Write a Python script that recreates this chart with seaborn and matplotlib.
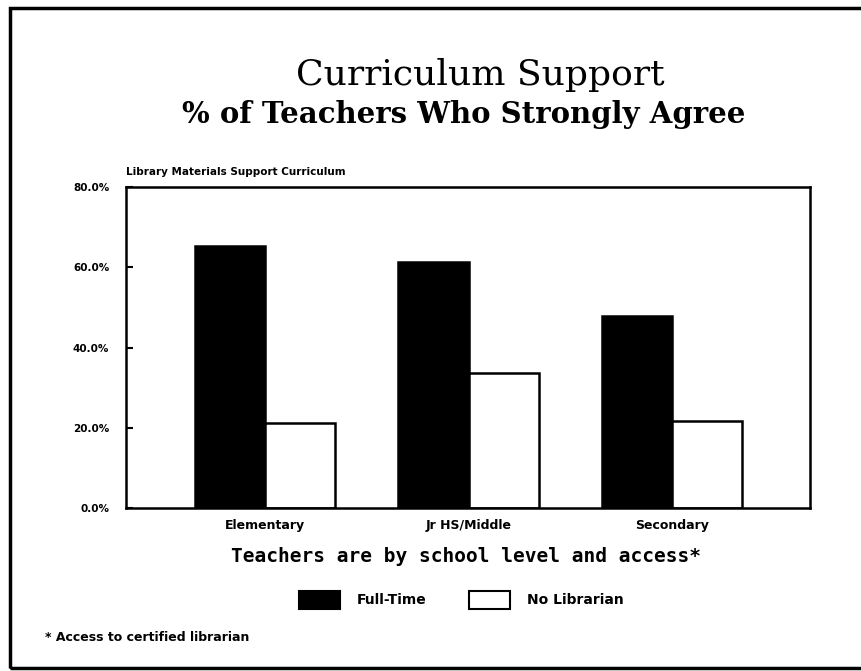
import pandas as pd
import matplotlib.pyplot as plt
import seaborn as sns
from matplotlib.patches import Patch, Rectangle

# data
levels = ['Elementary', 'Jr HS/Middle', 'Secondary']
full_time = [65.3, 61.3, 47.9]
no_librarian = [21.2, 33.7, 21.7]
groups = ['Full-Time', 'No Librarian']
y_ticks = [0, 20, 40, 60, 80]

df = pd.DataFrame({
    'level': levels * 2,
    'pct': full_time + no_librarian,
    'group': [groups[0]] * 3 + [groups[1]] * 3,
})

sns.set_style('white')
plt.rcParams['font.family'] = ['DejaVu Sans']
plt.rcParams['text.color'] = 'black'
plt.rcParams['xtick.color'] = 'black'
plt.rcParams['ytick.color'] = 'black'

fig = plt.figure(figsize=(8.62, 6.71), dpi=100)
ax = fig.add_axes([0.1462, 0.2429, 0.7935, 0.4784])

sns.barplot(data=df, x='level', y='pct', hue='group', palette=['black', 'white'],
            edgecolor='black', linewidth=1.8, width=0.69, saturation=1,
            legend=False, ax=ax)

ax.set_ylim(0, 80)
ax.set_xlim(-0.685, 2.68)
ax.set_yticks(y_ticks)
ax.set_yticklabels([f'{v:.1f}%' for v in y_ticks], fontsize=7.5, fontweight='bold')
ax.set_xticks(range(len(levels)))
ax.set_xticklabels(levels, fontsize=9, fontweight='bold')
ax.tick_params(axis='y', length=5, width=1.5, direction='in', pad=12, left=True)
ax.tick_params(axis='x', length=0, pad=8)
ax.set_xlabel('')
ax.set_ylabel('')
for s in ax.spines.values():
    s.set_linewidth(1.8)
    s.set_color('black')

# titles and labels
fig.text(0.557, 0.888, 'Curriculum Support', ha='center', va='center',
         fontsize=26, family='DejaVu Serif')
fig.text(0.538, 0.829, '% of Teachers Who Strongly Agree', ha='center', va='center',
         fontsize=21, family='DejaVu Serif', fontweight='bold')
fig.text(0.1462, 0.743, 'Library Materials Support Curriculum', ha='left', va='center',
         fontsize=7.5, fontweight='bold')
fig.text(0.541, 0.170, 'Teachers are by school level and access*', ha='center', va='center',
         fontsize=14, family='DejaVu Sans Mono', fontweight='bold')
fig.text(0.052, 0.050, '* Access to certified librarian', ha='left', va='center',
         fontsize=9, fontweight='bold')

handles = [Patch(facecolor='black', edgecolor='black', linewidth=1.5),
           Patch(facecolor='white', edgecolor='black', linewidth=1.5)]
fig.legend(handles, groups, loc='center', bbox_to_anchor=(0.535, 0.106), ncol=2,
           frameon=False, handlelength=3.0, handleheight=1.6, columnspacing=3,
           handletextpad=1.2, prop={'size': 10, 'weight': 'bold'})

# outer frame
fig.patches.append(Rectangle((0.012, 0.004), 1.2, 0.984, transform=fig.transFigure,
                             fill=False, edgecolor='black', linewidth=2.5))

fig.savefig('out.png', dpi=100)
